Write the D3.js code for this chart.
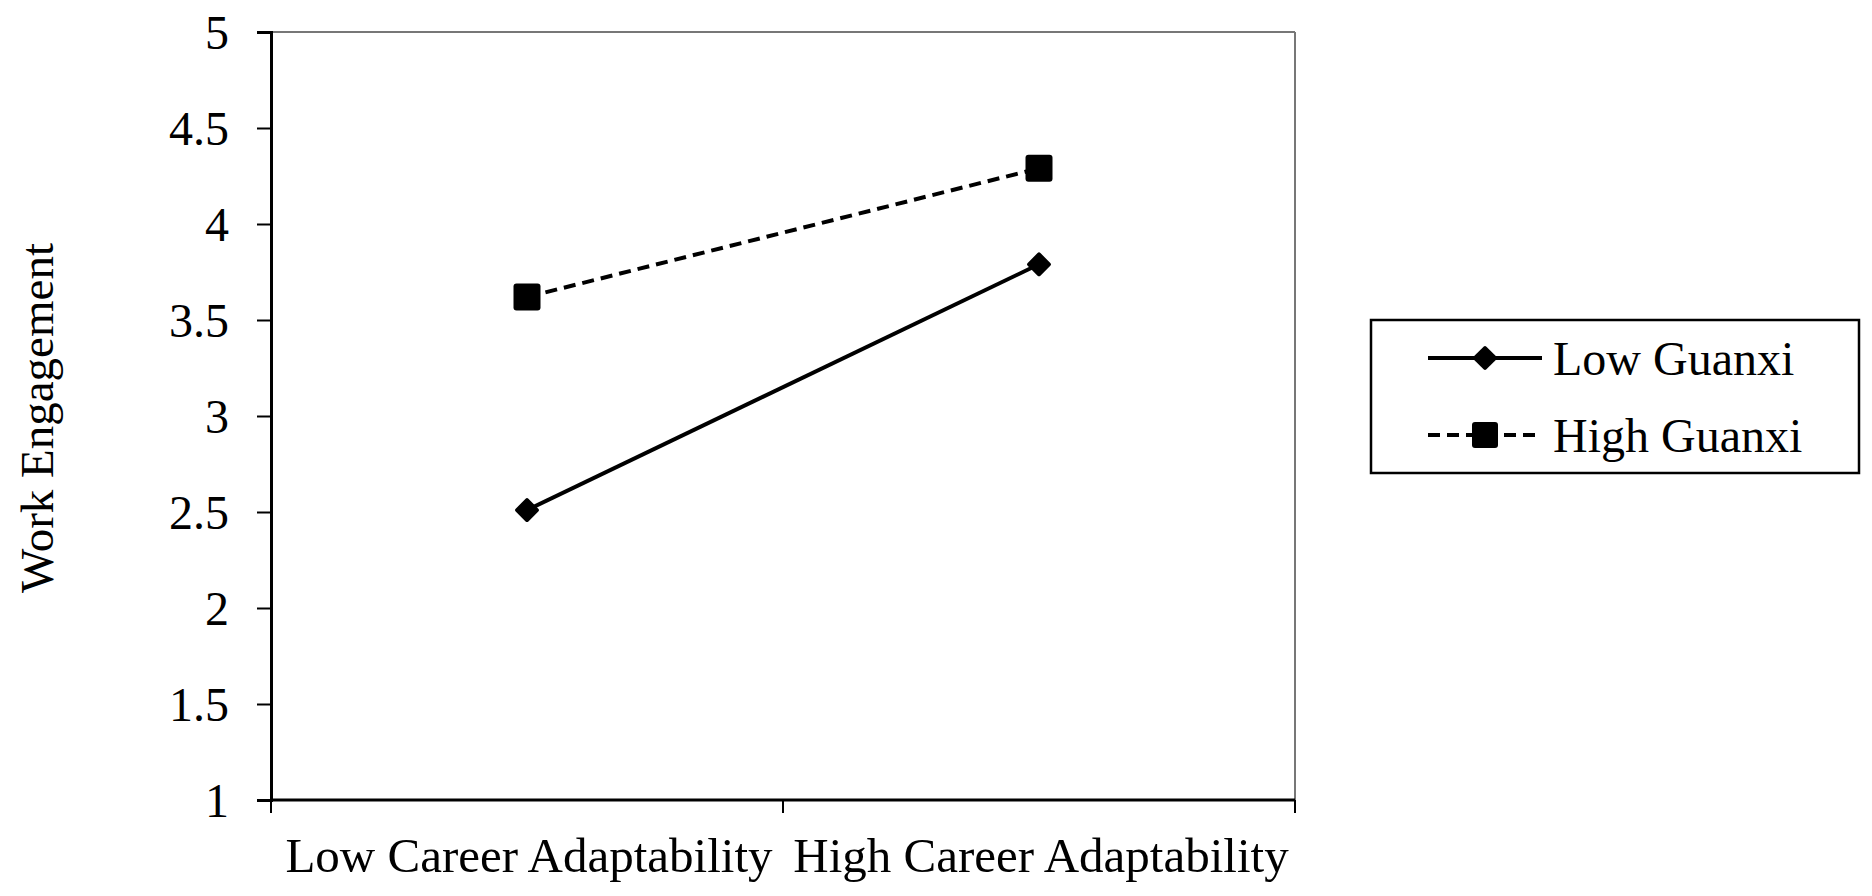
<!DOCTYPE html>
<html>
<head>
<meta charset="utf-8">
<script src="https://cdn.jsdelivr.net/npm/d3@7"></script>
<style>
  body { margin: 0; background: #fff; }
  svg text { font-family: "Liberation Serif", "Times New Roman", serif; fill: #000; }
</style>
</head>
<body>
<svg id="chart" width="1872" height="896"></svg>
<script>
// data
const categories = ["Low Career Adaptability", "High Career Adaptability"];
const lowGuanxi = [2.51, 3.79];
const highGuanxi = [3.62, 4.29];
const seriesNames = ["Low Guanxi", "High Guanxi"];
const yTicks = [1, 1.5, 2, 2.5, 3, 3.5, 4, 4.5, 5];

const margin = {top: 32, left: 271, right: 1872 - 1295, bottom: 896 - 800};
const width = 1872 - margin.left - margin.right;
const height = 896 - margin.top - margin.bottom;

const svg = d3.select('#chart');
const g = svg.append('g')
    .attr('transform', 'translate(' + margin.left + ',' + margin.top + ')');

const x = d3.scaleBand().domain(categories).range([0, width]);
const y = d3.scaleLinear().domain([1, 5]).range([height, 0]);

// frame: top and right in grey
g.append('line').attr('x1', 0).attr('x2', width).attr('y1', 0).attr('y2', 0)
    .attr('stroke', '#777').attr('stroke-width', 2);
g.append('line').attr('x1', width).attr('x2', width).attr('y1', 0).attr('y2', height)
    .attr('stroke', '#777').attr('stroke-width', 2);

// y axis
const yAxis = g.append('g')
    .call(d3.axisLeft(y).tickValues(yTicks).tickSize(14).tickPadding(28).tickFormat(d3.format('')));
yAxis.select('.domain').attr('stroke', '#000').attr('stroke-width', 3);
yAxis.selectAll('.tick line').attr('stroke', '#000').attr('stroke-width', 2);
yAxis.selectAll('text').attr('font-size', 48).attr('font-family', '"Liberation Serif", serif').attr('dy', '0.34em');

// x axis, ticks between categories
const xAxis = g.append('g').attr('transform', 'translate(0,' + height + ')');
xAxis.append('line').attr('x1', 0).attr('x2', width).attr('y1', 0).attr('y2', 0)
    .attr('stroke', '#000').attr('stroke-width', 3);
const boundaries = [0].concat(categories.map(c => x(c) + x.bandwidth()));
xAxis.selectAll('.xtick').data(boundaries).enter().append('line')
    .attr('x1', d => d).attr('x2', d => d).attr('y1', 0).attr('y2', 13)
    .attr('stroke', '#000').attr('stroke-width', 2);
xAxis.selectAll('.xlabel').data(categories).enter().append('text')
    .attr('x', d => x(d) + x.bandwidth() / 2 + 2)
    .attr('y', 72)
    .attr('text-anchor', 'middle')
    .attr('font-size', 49)
    .text(d => d);

// y label
svg.append('text')
    .attr('transform', 'translate(53,' + (margin.top + height / 2 + 2) + ') rotate(-90)')
    .attr('text-anchor', 'middle')
    .attr('font-size', 47)
    .text('Work Engagement');

const cx = d => x(d) + x.bandwidth() / 2;
const line = d3.line().x(d => cx(d.cat)).y(d => y(d.v));
const toPts = vals => categories.map((c, i) => ({cat: c, v: vals[i]}));

// high guanxi - dashed with squares
g.append('path').datum(toPts(highGuanxi))
    .attr('d', line).attr('fill', 'none').attr('stroke', '#000')
    .attr('stroke-width', 4).attr('stroke-dasharray', '12,7');
g.selectAll('.sq').data(toPts(highGuanxi)).enter().append('rect')
    .attr('x', d => cx(d.cat) - 13.5).attr('y', d => y(d.v) - 13.5)
    .attr('width', 27).attr('height', 27).attr('rx', 3).attr('fill', '#000');

// low guanxi - solid with diamonds
g.append('path').datum(toPts(lowGuanxi))
    .attr('d', line).attr('fill', 'none').attr('stroke', '#000').attr('stroke-width', 4);
g.selectAll('.dm').data(toPts(lowGuanxi)).enter().append('rect')
    .attr('x', -9).attr('y', -9).attr('width', 18).attr('height', 18).attr('rx', 2)
    .attr('transform', d => 'translate(' + cx(d.cat) + ',' + y(d.v) + ') rotate(45)')
    .attr('fill', '#000');

// legend
const leg = svg.append('g');
leg.append('rect').attr('x', 1371).attr('y', 320).attr('width', 488).attr('height', 153)
    .attr('fill', '#fff').attr('stroke', '#000').attr('stroke-width', 2.5);
const rows = [358, 435];
// Low Guanxi row
leg.append('line').attr('x1', 1428).attr('x2', 1542).attr('y1', rows[0]).attr('y2', rows[0])
    .attr('stroke', '#000').attr('stroke-width', 4);
leg.append('rect').attr('x', -9).attr('y', -9).attr('width', 18).attr('height', 18).attr('rx', 2)
    .attr('transform', 'translate(1485,' + rows[0] + ') rotate(45)').attr('fill', '#000');
// High Guanxi row
leg.append('line').attr('x1', 1428).attr('x2', 1542).attr('y1', rows[1]).attr('y2', rows[1])
    .attr('stroke', '#000').attr('stroke-width', 4).attr('stroke-dasharray', '12,7');
leg.append('rect').attr('x', 1485 - 13).attr('y', rows[1] - 13).attr('width', 26).attr('height', 26)
    .attr('rx', 3).attr('fill', '#000');
leg.selectAll('.lt').data(seriesNames).enter().append('text')
    .attr('x', 1553).attr('y', (d, i) => rows[i]).attr('dy', '0.36em')
    .attr('font-size', 48).text(d => d);
</script>
</body>
</html>
